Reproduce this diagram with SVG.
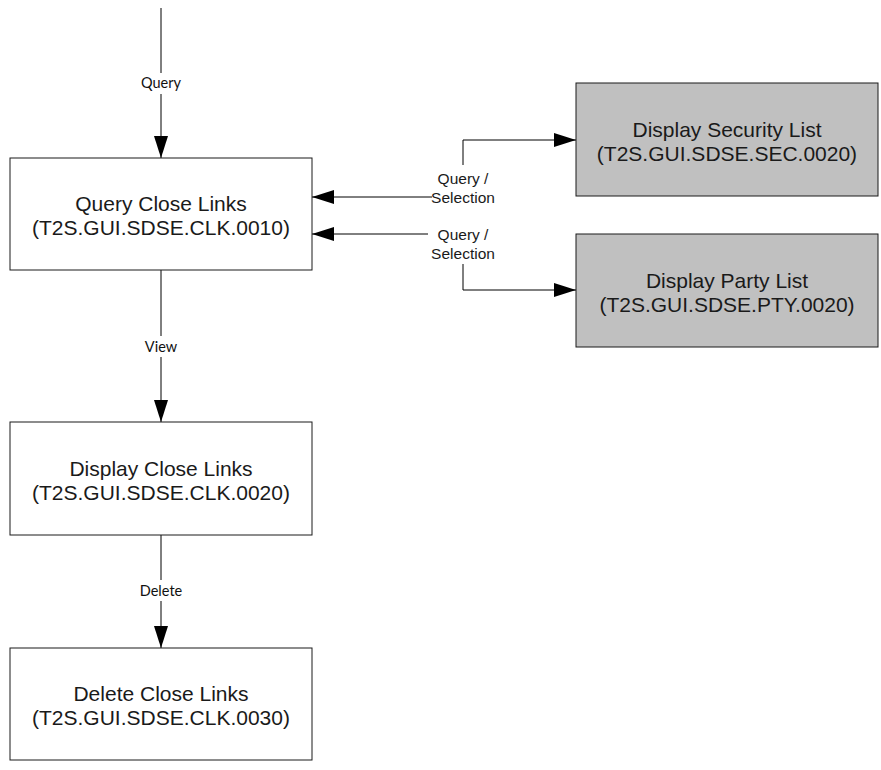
<svg xmlns="http://www.w3.org/2000/svg" width="881" height="770" viewBox="0 0 881 770">
<style>
.box{fill:#ffffff;stroke:#1a1a1a;stroke-width:1}
.gbox{fill:#c0c0c0;stroke:#1a1a1a;stroke-width:1}
.t{font-family:"Liberation Sans",Arial,sans-serif;font-size:21px;fill:#1a1a1a;text-anchor:middle}
.lbl{font-family:Lato,"Liberation Sans",sans-serif;font-size:14.5px;fill:#111111;text-anchor:middle}
.lbl2{font-family:"Liberation Sans",Arial,sans-serif;font-size:15.5px;fill:#1a1a1a;text-anchor:middle}
.ln{fill:none;stroke:#000;stroke-width:1}
.bg{fill:#ffffff}
</style>
<defs>
<marker id="arr" markerUnits="userSpaceOnUse" markerWidth="22" markerHeight="14" refX="22" refY="7" orient="auto-start-reverse" viewBox="0 0 22 14">
<path d="M0,0 L22,7 L0,14 Z" fill="#000"/>
</marker>
</defs>
<rect width="881" height="770" fill="#ffffff"/>
<g id="connectors">
<line class="ln" x1="161" y1="8" x2="161" y2="158" marker-end="url(#arr)"/>
<rect class="bg" x="140" y="73" width="42" height="21"/>
<text class="lbl" x="161" y="88">Query</text>
<line class="ln" x1="161" y1="270" x2="161" y2="422" marker-end="url(#arr)"/>
<rect class="bg" x="144" y="336" width="34" height="21"/>
<text class="lbl" x="161" y="352">View</text>
<line class="ln" x1="161" y1="535" x2="161" y2="648" marker-end="url(#arr)"/>
<rect class="bg" x="137" y="580" width="48" height="21"/>
<text class="lbl" x="161" y="596">Delete</text>
<polyline class="ln" points="312,197 463,197 463,140 576,140" marker-start="url(#arr)" marker-end="url(#arr)"/>
<rect class="bg" x="432" y="165" width="62" height="40"/>
<text class="lbl2" x="463" y="184">Query /</text>
<text class="lbl2" x="463" y="203">Selection</text>
<polyline class="ln" points="312,234 463,234 463,290 576,290" marker-start="url(#arr)" marker-end="url(#arr)"/>
<rect class="bg" x="428" y="224" width="70" height="40"/>
<text class="lbl2" x="463" y="240">Query /</text>
<text class="lbl2" x="463" y="259">Selection</text>
</g>
<g id="query-close-links">
<rect class="box" x="10" y="158" width="302" height="112"/>
<text class="t" x="161" y="211">Query Close Links</text>
<text class="t" x="161" y="235">(T2S.GUI.SDSE.CLK.0010)</text>
</g>
<g id="display-close-links">
<rect class="box" x="10" y="422" width="302" height="113"/>
<text class="t" x="161" y="475.5">Display Close Links</text>
<text class="t" x="161" y="499.5">(T2S.GUI.SDSE.CLK.0020)</text>
</g>
<g id="delete-close-links">
<rect class="box" x="10" y="648" width="302" height="112"/>
<text class="t" x="161" y="701">Delete Close Links</text>
<text class="t" x="161" y="725">(T2S.GUI.SDSE.CLK.0030)</text>
</g>
<g id="display-security-list">
<rect class="gbox" x="576" y="83" width="302" height="113"/>
<text class="t" x="727" y="136.5">Display Security List</text>
<text class="t" x="727" y="160.5">(T2S.GUI.SDSE.SEC.0020)</text>
</g>
<g id="display-party-list">
<rect class="gbox" x="576" y="234" width="302" height="113"/>
<text class="t" x="727" y="287.5">Display Party List</text>
<text class="t" x="727" y="311.5">(T2S.GUI.SDSE.PTY.0020)</text>
</g>
</svg>
